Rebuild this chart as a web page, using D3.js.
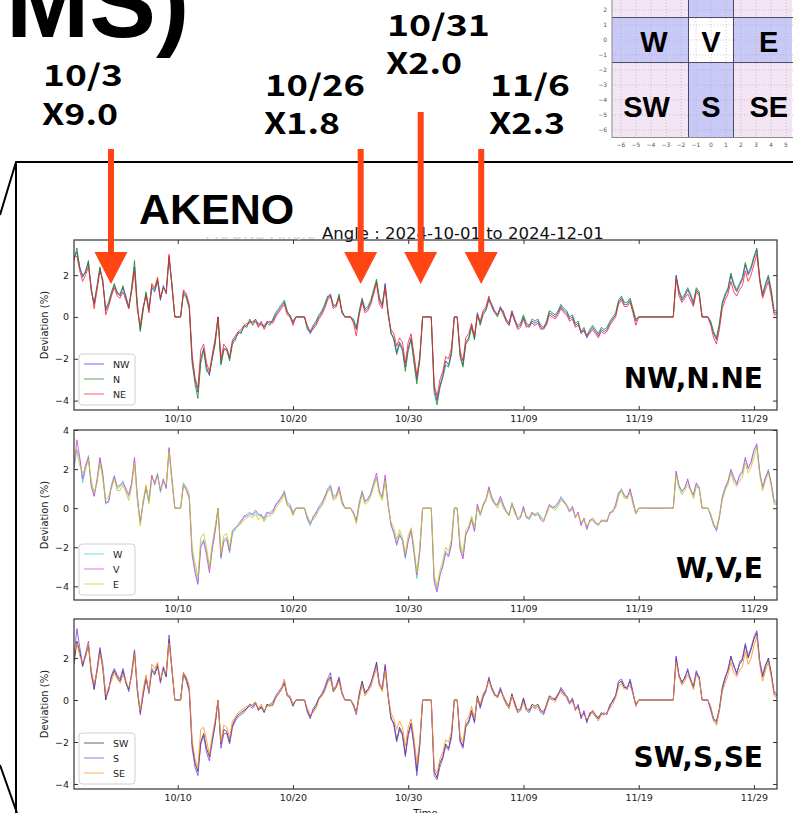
<!DOCTYPE html>
<html>
<head>
<meta charset="utf-8">
<script src="https://cdn.jsdelivr.net/npm/d3@7"></script>
<style>
html, body { margin: 0; padding: 0; background: #fff; overflow: hidden; }
svg text { font-family: "DejaVu Sans", sans-serif; }
</style>
</head>
<body>
<div id="chart"></div>
<script>
// sampling: one value every 6 hours from 2024-10-01 00:00 UTC
var startDate = new Date(Date.UTC(2024, 9, 1));
var endDate = new Date(Date.UTC(2024, 11, 1));
var stepDays = 0.25;
var tickDates = ["2024-10-10", "2024-10-20", "2024-10-30", "2024-11-09", "2024-11-19", "2024-11-29"];

var nw = [
2.8,3.1,2.4,1.9, 2.2,2.6,1.3,0.6, 1.4,2.3,1.7,0.3, 0.6,1.1,1.5,1.2, 1.0,1.4,1.0,0.5,
1.3,2.4,0.5,-0.6, 0.4,1.1,0.3,1.4, 1.2,1.7,0.8,1.5, 1.1,2.9,1.5,0, 0,0,1.2,1.0,
0.5,-2.0,-3.0,-3.6, -2.0,-1.5,-2.4,-2.8, -1.9,-1.2,0,-2.2, -1.5,-1.6,-2.0,-1.2, -1.0,-0.8,-0.7,-0.5,
-0.4,-0.2,-0.3,-0.1, -0.4,-0.3,-0.5,-0.2, -0.3,-0.2,0.1,0.3, 0.5,0.7,0.2,0.1, -0.3,0,0,0,
0,-0.5,-0.8,-0.5, -0.3,0.0,0.2,0.5, 0.9,1.1,0.5,0.6, 1.0,0.3,0,0, 0,-0.2,-0.6,0.2,
0.8,0.3,0.4,0.7, 1.2,1.7,0.8,0.5, 1.6,0.2,-0.8,-1.0, -1.7,-1.2,-1.5,-2.4, -1.5,-1.0,-2.0,-3.0,
-2.0,0,0,0, 0,-3.4,-4.0,-3.3, -2.8,-2.1,-2.3,-1.7, 0,0,-1.8,-2.3, -1.2,-1.0,-0.4,-1.0,
0.2,-0.3,0.2,0.4, 0.9,0.6,0.3,0.1, 0.5,0.2,-0.1,-0.3, 0.3,-0.1,-0.5,-0.4, 0,-0.4,-0.5,-0.2,
-0.3,-0.2,-0.5,-0.6, -0.3,0.2,0.1,0.0, 0.2,0.5,0.3,0.2, -0.1,0.0,-0.4,-0.3, -0.8,-0.6,-1.0,-0.7,
-0.5,-0.7,-0.9,-0.6, -0.7,-0.6,-0.3,-0.1, 0.1,0.7,0.9,0.6, 0.6,0.8,0.3,-0.2, 0,0,0,0,
0,0,0,0, 0,0,0,0, 0,2.0,1.2,0.8, 1.0,1.3,1.0,0.6, 1.3,1.1,0,0,
0,-0.3,-0.8,-1.1, -0.4,0.6,1.0,1.3, 2.0,1.5,1.2,1.5, 1.8,2.5,2.0,2.3, 2.8,3.2,1.8,1.0,
1.5,1.9,1.2,0.2, 0.2];

var n = [
2.7,3.3,2.3,2.0, 2.1,2.7,1.2,0.7, 1.5,2.4,1.6,0.4, 0.7,1.2,1.6,1.1, 1.1,1.5,0.9,0.4,
1.4,2.7,0.6,-0.7, 0.3,1.2,0.4,1.5, 1.3,1.8,0.9,1.4, 1.2,2.8,1.6,0, 0,0,1.1,0.9,
0.4,-2.2,-3.2,-3.9, -2.2,-1.6,-2.6,-2.7, -2.0,-1.3,0,-2.3, -1.6,-1.5,-2.1,-1.3, -1.1,-0.7,-0.8,-0.4,
-0.5,-0.1,-0.4,-0.2, -0.3,-0.4,-0.4,-0.3, -0.4,-0.1,0.2,0.4, 0.6,0.8,0.3,0.0, -0.2,0,0,0,
0,-0.6,-0.7,-0.4, -0.2,0.1,0.3,0.6, 1.0,1.0,0.6,0.5, 1.1,0.2,0,0, 0,-0.1,-0.5,0.3,
0.9,0.4,0.5,0.8, 1.3,1.8,0.9,0.6, 1.5,0.3,-0.7,-1.1, -1.8,-1.3,-1.6,-2.6, -1.6,-1.1,-2.2,-3.2,
-2.1,0,0,0, 0,-3.6,-4.2,-3.4, -2.9,-2.3,-2.4,-1.8, 0,0,-1.9,-2.4, -1.3,-1.1,-0.5,-1.1,
0.1,-0.4,0.1,0.3, 0.8,0.5,0.2,0.0, 0.4,0.1,-0.2,-0.4, 0.2,-0.2,-0.4,-0.3, 0.1,-0.3,-0.4,-0.1,
-0.2,-0.1,-0.4,-0.5, -0.2,0.3,0.2,0.1, 0.3,0.6,0.4,0.3, 0.0,0.1,-0.3,-0.2, -0.7,-0.5,-0.9,-0.6,
-0.4,-0.6,-0.8,-0.5, -0.6,-0.5,-0.2,0.0, 0.2,0.8,1.0,0.7, 0.7,0.9,0.4,-0.1, 0,0,0,0,
0,0,0,0, 0,0,0,0, 0,1.9,1.3,0.9, 1.1,1.4,1.1,0.7, 1.4,1.2,0,0,
0,-0.2,-0.7,-1.0, -0.3,0.7,1.1,1.4, 2.1,1.6,1.3,1.6, 1.9,2.6,2.1,2.4, 2.9,3.3,1.9,1.1,
1.6,2.0,1.3,0.3, 0.3];

var ne = [
2.9,2.9,2.2,1.7, 2.0,2.4,1.4,0.4, 1.3,2.2,1.8,0.1, 0.5,1.0,1.4,1.0, 0.9,1.2,0.8,0.4,
1.2,2.2,0.3,-0.4, 0.5,1.0,0.2,1.6, 1.4,1.9,0.9,1.4, 1.2,3.0,1.4,0, 0,0,1.3,1.1,
0.6,-1.8,-2.9,-3.4, -1.6,-1.3,-2.2,-2.6, -1.8,-1.0,0,-2.0, -1.3,-1.5,-1.9,-1.1, -0.9,-0.7,-0.6,-0.4,
-0.3,-0.3,-0.2,-0.2, -0.5,-0.2,-0.6,-0.3, -0.2,-0.3,0.0,0.2, 0.4,0.6,0.1,0.0, -0.4,0,0,0,
0,-0.4,-0.7,-0.6, -0.4,-0.1,0.1,0.4, 0.8,1.0,0.4,0.5, 0.9,0.2,0,0, 0,-0.3,-0.9,0.1,
0.7,0.2,0.3,0.6, 1.1,1.6,0.6,0.4, 1.4,0.1,-0.6,-0.8, -1.4,-1.0,-1.2,-2.2, -1.2,-0.8,-1.8,-2.8,
-1.9,0,0,0, 0,-3.2,-3.8,-3.0, -2.6,-1.9,-2.0,-1.5, 0,0,-1.6,-2.1, -1.0,-0.8,-0.3,-0.9,
0.1,-0.2,0.3,0.5, 1.0,0.5,0.2,0.1, 0.4,0.3,-0.2,-0.4, 0.2,-0.2,-0.6,-0.5, -0.1,-0.5,-0.4,-0.3,
-0.4,-0.3,-0.6,-0.5, -0.4,0.1,0.0,-0.1, 0.1,0.4,0.2,0.1, -0.2,-0.1,-0.5,-0.4, -0.7,-0.7,-0.9,-0.8,
-0.6,-0.8,-1.0,-0.7, -0.8,-0.7,-0.4,-0.2, 0.0,0.6,0.8,0.5, 0.5,0.7,0.2,-0.4, 0,0,0,0,
0,0,0,0, 0,0,0,0, 0,1.8,1.0,0.7, 0.9,1.1,0.8,0.5, 1.2,1.0,0,0,
0,-0.4,-1.0,-1.3, -0.6,0.4,0.8,1.1, 1.7,1.2,1.0,1.3, 1.5,2.2,1.7,2.0, 2.5,3.0,1.7,0.9,
1.3,1.7,1.0,0.1, 0.1];

var w = [
2.0,3.0,2.5,1.3, 2.0,2.7,1.2,0.7, 1.5,2.5,1.6,0.2, 0.4,1.2,1.7,1.0, 1.1,1.4,0.9,0.6,
1.2,2.4,0.5,-0.8, 0.2,1.0,0.3,1.6, 1.3,1.8,0.8,1.4, 1.1,3.0,1.4,0, 0,0,1.3,1.0,
0.6,-2.2,-3.1,-3.8, -1.9,-1.6,-2.2,-3.1, -2.0,-1.1,0,-2.6, -1.6,-1.5,-2.3,-1.3, -1.1,-0.8,-0.6,-0.5,
-0.3,-0.2,-0.4,-0.2, -0.4,-0.3,-0.6,-0.3, -0.2,-0.1,0.1,0.4, 0.5,0.9,0.3,0.2, -0.2,0,0,0,
0,-0.6,-0.9,-0.4, -0.3,0.1,0.3,0.5, 1.0,1.2,0.6,0.7, 1.0,0.3,0,0, 0,-0.3,-0.6,0.3,
0.9,0.4,0.4,0.8, 1.2,1.6,0.9,0.5, 1.5,0.3,-0.9,-1.2, -1.8,-1.3,-1.7,-2.6, -1.6,-1.2,-2.3,-3.6,
-2.3,0,0,0, 0,-3.6,-4.2,-3.5, -2.9,-2.2,-2.4,-1.8, 0,0,-2.0,-2.5, -1.3,-1.1,-0.5,-1.1,
0.1,-0.4,0.2,0.5, 1.0,0.6,0.3,0.1, 0.5,0.1,-0.1,-0.4, 0.3,-0.2,-0.5,-0.4, 0.0,-0.4,-0.6,-0.3,
-0.3,-0.2,-0.5,-0.6, -0.3,0.1,0.1,0.0, 0.2,0.6,0.3,0.2, -0.1,0.0,-0.4,-0.3, -0.8,-0.6,-1.0,-0.7,
-0.5,-0.7,-0.9,-0.6, -0.7,-0.6,-0.3,-0.1, 0.1,0.7,1.0,0.6, 0.6,0.9,0.3,-0.2, 0,0,0,0,
0,0,0,0, 0,0,0,0, 0,1.8,1.2,0.8, 1.1,1.4,1.0,0.6, 1.2,1.1,0,0,
0,-0.3,-0.8,-1.2, -0.4,0.6,1.1,1.3, 1.9,1.5,1.3,1.6, 1.8,2.5,2.1,2.3, 2.9,3.2,1.9,1.0,
1.5,2.0,1.2,0.3, 0.2];

var v = [
2.1,3.5,2.6,1.5, 2.2,2.6,1.1,0.6, 1.4,2.6,1.8,0.3, 0.3,1.1,1.6,1.1, 1.2,1.3,1.0,0.7,
1.3,2.6,0.6,-0.7, 0.3,1.1,0.4,1.7, 1.2,1.7,0.9,1.5, 1.0,3.1,1.5,0, 0,0,1.2,0.9,
0.5,-2.4,-3.3,-3.9, -2.0,-1.7,-2.4,-3.3, -2.1,-1.2,0,-2.5, -1.7,-1.6,-2.2,-1.2, -1.0,-0.9,-0.7,-0.4,
-0.4,-0.3,-0.3,-0.1, -0.3,-0.4,-0.5,-0.2, -0.3,-0.2,0.2,0.3, 0.6,0.8,0.2,0.1, -0.3,0,0,0,
0,-0.5,-0.8,-0.5, -0.2,0.0,0.2,0.6, 0.9,1.1,0.5,0.6, 1.1,0.4,0,0, 0,-0.2,-0.7,0.2,
0.8,0.3,0.5,0.7, 1.3,1.8,0.8,0.6, 1.7,0.2,-0.8,-1.3, -1.9,-1.4,-1.6,-2.5, -1.7,-1.1,-2.2,-3.4,
-2.2,0,0,0, 0,-3.8,-4.3,-3.4, -3.0,-2.3,-2.5,-1.9, 0,0,-2.1,-2.6, -1.4,-1.0,-0.6,-1.2,
0.2,-0.3,0.1,0.4, 1.1,0.5,0.2,0.2, 0.6,0.2,-0.2,-0.3, 0.2,-0.1,-0.6,-0.5, 0.1,-0.5,-0.5,-0.2,
-0.4,-0.3,-0.6,-0.7, -0.2,0.2,0.0,0.1, 0.3,0.5,0.4,0.1, -0.2,0.1,-0.5,-0.2, -0.9,-0.5,-1.1,-0.6,
-0.6,-0.8,-0.8,-0.7, -0.6,-0.7,-0.2,-0.2, 0.2,0.8,0.9,0.7, 0.5,1.0,0.4,-0.3, 0,0,0,0,
0,0,0,0, 0,0,0,0, 0,1.9,1.1,0.9, 1.0,1.5,0.9,0.7, 1.3,1.0,0,0,
0,-0.4,-0.9,-1.1, -0.5,0.5,1.0,1.4, 2.0,1.6,1.2,1.7, 1.9,2.6,2.0,2.4, 3.0,3.3,1.8,1.1,
1.6,1.9,1.3,0.4, 0.3];

var e = [
2.6,2.9,2.2,1.8, 2.0,2.5,1.4,0.8, 1.3,2.3,1.5,0.4, 0.6,1.0,1.5,0.9, 0.9,1.2,0.8,0.4,
1.1,2.3,0.4,-0.9, 0.4,1.2,0.2,1.5, 1.4,1.6,1.0,1.3, 1.2,2.9,1.3,0, 0,0,1.2,1.1,
0.7,-2.0,-2.8,-3.5, -1.5,-1.3,-2.0,-3.0, -1.8,-0.9,0,-2.3, -1.4,-1.3,-2.0,-1.1, -1.0,-0.9,-0.8,-0.6,
-0.5,-0.4,-0.5,-0.3, -0.6,-0.4,-0.7,-0.4, -0.4,-0.3,0.0,0.2, 0.4,0.7,0.1,0.0, -0.4,0,0,0,
0,-0.4,-0.7,-0.6, -0.4,-0.1,0.1,0.4, 0.8,1.0,0.4,0.5, 0.9,0.2,0,0, 0,-0.3,-0.8,0.1,
0.7,0.2,0.3,0.6, 1.1,1.5,0.7,0.4, 1.4,0.1,-0.7,-1.0, -1.6,-1.1,-1.5,-2.3, -1.4,-1.0,-2.0,-3.3,
-2.0,0,0,0, 0,-3.4,-4.0,-3.2, -2.7,-2.0,-2.2,-1.6, 0,0,-1.8,-2.3, -1.1,-0.9,-0.4,-1.0,
0.0,-0.3,0.2,0.4, 0.9,0.4,0.2,0.0, 0.4,0.0,-0.2,-0.4, 0.2,-0.3,-0.5,-0.4, -0.1,-0.4,-0.5,-0.3,
-0.3,-0.3,-0.4,-0.6, -0.3,0.1,0.0,-0.1, 0.1,0.4,0.3,0.1, -0.1,-0.1,-0.4,-0.3, -0.7,-0.6,-0.9,-0.7,
-0.5,-0.7,-0.9,-0.6, -0.7,-0.6,-0.3,-0.1, 0.0,0.6,0.9,0.5, 0.5,0.8,0.2,-0.3, 0,0,0,0,
0,0,0,0, 0,0,0,0, 0,1.7,1.0,0.7, 0.9,1.2,0.9,0.5, 1.1,1.0,0,0,
0,-0.3,-0.8,-1.0, -0.4,0.4,0.9,1.2, 1.8,1.3,1.1,1.4, 1.6,2.3,1.8,2.1, 2.6,3.1,1.7,0.9,
1.4,1.8,1.1,0.2, 0.2];

var sw = [
1.7,2.8,2.3,1.6, 2.1,2.6,1.3,0.5, 1.4,2.4,1.5,0.0, 0.5,1.1,1.4,1.1, 0.9,1.4,0.8,0.5,
1.2,2.3,0.4,-0.6, 0.3,1.0,0.4,1.4, 1.2,1.6,0.9,1.5, 1.1,2.9,1.4,0, 0,0,1.3,1.0,
0.5,-2.1,-3.0,-3.4, -2.0,-1.6,-2.3,-2.7, -1.9,-1.1,0,-2.1, -1.4,-1.5,-2.0,-1.2, -0.9,-0.7,-0.6,-0.5,
-0.4,-0.2,-0.3,-0.1, -0.5,-0.3,-0.6,-0.2, -0.3,-0.2,0.1,0.3, 0.5,0.8,0.2,0.1, -0.3,0,0,0,
0,-0.5,-0.8,-0.5, -0.3,0.1,0.2,0.5, 0.9,1.1,0.4,0.6, 1.0,0.3,0,0, 0,-0.2,-0.6,0.3,
0.9,0.3,0.5,0.8, 1.2,1.8,0.7,0.5, 1.6,0.2,-0.9,-1.1, -1.9,-1.3,-1.6,-2.6, -1.6,-1.1,-2.1,-3.4,
-2.1,0,0,0, 0,-3.4,-3.7,-3.0, -2.7,-2.1,-2.3,-1.7, 0,0,-1.9,-2.2, -1.2,-1.0,-0.5,-1.0,
0.2,-0.3,0.2,0.5, 1.0,0.6,0.3,0.1, 0.5,0.2,-0.1,-0.3, 0.3,-0.2,-0.5,-0.4, 0.1,-0.4,-0.5,-0.2,
-0.3,-0.2,-0.5,-0.6, -0.2,0.2,0.1,0.0, 0.3,0.5,0.3,0.2, -0.1,0.0,-0.4,-0.3, -0.8,-0.6,-1.0,-0.7,
-0.5,-0.7,-0.9,-0.6, -0.7,-0.6,-0.3,0.0, 0.2,0.8,0.9,0.6, 0.6,0.9,0.3,-0.2, 0,0,0,0,
0,0,0,0, 0,0,0,0, 0,2.0,1.2,0.8, 1.1,1.4,1.0,0.6, 1.3,1.1,0,0,
0,-0.4,-0.9,-1.0, -0.4,0.6,1.1,1.4, 2.1,1.6,1.3,1.7, 1.9,2.6,2.0,2.4, 2.9,3.2,1.8,1.1,
1.6,2.0,1.3,0.3, 0.2];

var s = [
2.0,3.4,2.5,1.7, 2.2,2.8,1.2,0.6, 1.5,2.5,1.7,0.2, 0.4,1.2,1.5,1.2, 1.0,1.5,0.9,0.4,
1.3,2.4,0.5,-0.7, 0.2,1.1,0.3,1.5, 1.3,1.7,0.8,1.6, 1.2,3.1,1.5,0, 0,0,1.2,0.9,
0.4,-2.3,-3.2,-3.6, -2.1,-1.7,-2.5,-2.9, -2.0,-1.2,0,-2.3, -1.6,-1.6,-2.1,-1.3, -1.0,-0.8,-0.7,-0.6,
-0.4,-0.3,-0.4,-0.2, -0.4,-0.4,-0.5,-0.3, -0.2,-0.1,0.2,0.4, 0.6,0.9,0.3,0.1, -0.2,0,0,0,
0,-0.6,-0.9,-0.4, -0.2,0.1,0.3,0.6, 1.0,1.3,0.5,0.7, 1.1,0.4,0,0, 0,-0.3,-0.7,0.2,
0.8,0.4,0.5,0.7, 1.3,1.7,0.8,0.6, 1.7,0.3,-0.8,-1.2, -2.0,-1.4,-1.7,-2.7, -1.7,-1.2,-2.2,-3.6,
-2.2,0,0,0, 0,-3.6,-3.8,-3.2, -2.8,-2.2,-2.4,-1.8, 0,0,-2.0,-2.3, -1.3,-1.1,-0.6,-1.1,
0.1,-0.4,0.1,0.4, 1.1,0.5,0.2,0.2, 0.6,0.1,-0.2,-0.4, 0.2,-0.1,-0.6,-0.5, 0.0,-0.5,-0.6,-0.3,
-0.4,-0.3,-0.6,-0.7, -0.3,0.1,0.0,0.1, 0.2,0.6,0.4,0.1, -0.2,0.1,-0.5,-0.2, -0.9,-0.5,-1.1,-0.6,
-0.6,-0.8,-0.8,-0.7, -0.6,-0.7,-0.2,-0.1, 0.2,0.9,1.0,0.7, 0.5,1.0,0.4,-0.3, 0,0,0,0,
0,0,0,0, 0,0,0,0, 0,2.1,1.1,0.9, 1.0,1.5,0.9,0.7, 1.4,1.0,0,0,
0,-0.5,-1.0,-1.1, -0.5,0.5,1.0,1.5, 2.0,1.7,1.2,1.8, 2.0,2.7,2.1,2.5, 3.0,3.3,1.9,1.2,
1.7,1.9,1.2,0.4, 0.3];

var se = [
2.3,2.7,2.1,1.8, 2.0,2.7,1.4,0.8, 1.3,2.2,1.6,0.3, 0.6,0.9,1.3,1.0, 0.8,1.2,0.9,0.6,
1.1,2.2,0.6,-0.5, 0.5,1.2,0.4,1.7, 1.5,1.8,1.0,1.4, 1.3,2.7,1.5,0, 0,0,1.3,1.1,
0.7,-1.9,-2.8,-3.2, -1.4,-1.3,-1.9,-2.6, -1.7,-0.9,0,-2.0, -1.2,-1.3,-1.8,-1.0, -0.8,-0.6,-0.5,-0.4,
-0.3,-0.3,-0.2,-0.1, -0.4,-0.2,-0.5,-0.3, -0.2,-0.3,0.1,0.3, 0.5,1.0,0.2,0.2, -0.2,0,0,0,
0,-0.4,-0.7,-0.6, -0.4,0.0,0.2,0.4, 0.8,1.0,0.5,0.6, 0.9,0.3,0,0, 0,-0.2,-0.6,0.1,
0.7,0.2,0.4,0.6, 1.1,1.5,0.7,0.4, 1.4,0.2,-0.6,-0.9, -1.4,-1.0,-1.3,-2.2, -1.3,-0.9,-1.8,-3.0,
-1.9,0,0,0, 0,-3.2,-3.5,-2.8, -2.5,-1.9,-2.0,-1.5, 0,0,-1.7,-2.0, -1.0,-0.8,-0.3,-0.9,
0.1,-0.2,0.3,0.5, 0.9,0.5,0.3,0.1, 0.4,0.2,-0.2,-0.4, 0.2,-0.3,-0.6,-0.5, -0.1,-0.5,-0.4,-0.3,
-0.4,-0.3,-0.5,-0.5, -0.3,0.1,0.1,-0.1, 0.2,0.4,0.2,0.2, -0.1,-0.1,-0.4,-0.4, -0.7,-0.7,-0.9,-0.8,
-0.5,-0.8,-1.0,-0.7, -0.7,-0.6,-0.4,-0.2, 0.1,0.6,0.8,0.5, 0.6,0.7,0.3,-0.3, 0,0,0,0,
0,0,0,0, 0,0,0,0, 0,1.8,1.1,0.7, 0.9,1.2,0.9,0.5, 1.2,1.0,0,0,
0,-0.3,-0.9,-1.2, -0.5,0.4,0.8,1.2, 1.8,1.3,1.1,1.4, 1.6,2.3,1.7,2.0, 2.6,3.0,1.7,0.9,
1.4,1.8,1.1,0.2, 0.1];

var groups = [
  { names: ["NW", "N", "NE"], values: [nw, n, ne], colors: ["#2f2fff", "#178a17", "#ff1e1e"], label: "NW,N.NE", yTicks: [-4, -2, 0, 2] },
  { names: ["W", "V", "E"], values: [w, v, e], colors: ["#3fd0dc", "#d040d8", "#c8c81e"], label: "W,V,E", yTicks: [-4, -2, 0, 2, 4] },
  { names: ["SW", "S", "SE"], values: [sw, s, se], colors: ["#2a2a2a", "#7b3ee0", "#ff8c1a"], label: "SW,S,SE", yTicks: [-4, -2, 0, 2] }
];

// event annotations (date, rate multiplier) and the instant each arrow points at
var eventDates = ["10/3", "10/26", "10/31", "11/6"];
var eventRates = ["X9.0", "X1.8", "X2.0", "X2.3"];
var arrowTimes = ["2024-10-04T05:00Z", "2024-10-25T21:00Z", "2024-10-31T02:00Z", "2024-11-05T08:00Z"];

// inset detector map
var cellNames = ["W", "V", "E", "SW", "S", "SE"];

var W = 793, H = 813;
var svg = d3.select("#chart").append("svg").attr("width", W).attr("height", H);

// layout of the three panels (pixels) and their y ranges
var panelBox = [
  { top: 240, bottom: 410, ymin: -4.45, ymax: 3.68 },
  { top: 430, bottom: 600, ymin: -4.7, ymax: 4.0 },
  { top: 619, bottom: 789, ymin: -4.24, ymax: 3.86 }
];
var left = 74, right = 777;

var x = d3.scaleUtc().domain([startDate, endDate]).range([left, right]);
var fmt = d3.utcFormat("%m/%d");
var tickVals = tickDates.map(function(d) { return new Date(d + "T00:00:00Z"); });
function timeAt(i) { return new Date(startDate.getTime() + i * stepDays * 864e5); }

// callout frame
svg.append("path")
  .attr("d", "M0,215 L16,162 L793,162 M16,162 L16,813 M0,765 L17,813")
  .attr("fill", "none").attr("stroke", "#000").attr("stroke-width", 2);

// big cut-off title at top left
svg.append("text").attr("x", 6).attr("y", 37)
  .style("font-family", "'Liberation Sans', sans-serif").style("font-weight", "bold")
  .style("font-size", "100px").attr("fill", "#000").text("MS)");

groups.forEach(function(g, k) {
  var box = panelBox[k];
  var y = d3.scaleLinear().domain([box.ymin, box.ymax]).range([box.bottom, box.top]);
  var pg = svg.append("g");

  pg.append("clipPath").attr("id", "clip" + k).append("rect")
    .attr("x", left).attr("y", box.top).attr("width", right - left).attr("height", box.bottom - box.top);

  var line = d3.line()
    .x(function(d, i) { return x(timeAt(i)); })
    .y(function(d) { return y(d); });

  var lg = pg.append("g").attr("clip-path", "url(#clip" + k + ")");
  g.values.forEach(function(vals, j) {
    lg.append("path").datum(vals)
      .attr("fill", "none")
      .attr("stroke", g.colors[j])
      .attr("stroke-opacity", 0.8)
      .attr("stroke-width", 1)
      .attr("d", line);
  });

  // axes, ticks pointing inwards on all sides
  var ax = pg.append("g").attr("transform", "translate(0," + box.bottom + ")")
    .call(d3.axisBottom(x).tickValues(tickVals).tickFormat(fmt).tickSize(-4).tickPadding(5));
  var axt = pg.append("g").attr("transform", "translate(0," + box.top + ")")
    .call(d3.axisTop(x).tickValues(tickVals).tickFormat("").tickSize(-4));
  var ay = pg.append("g").attr("transform", "translate(" + left + ",0)")
    .call(d3.axisLeft(y).tickValues(g.yTicks).tickFormat(d3.format("d")).tickSize(-4).tickPadding(5));
  var ayr = pg.append("g").attr("transform", "translate(" + right + ",0)")
    .call(d3.axisRight(y).tickValues(g.yTicks).tickFormat("").tickSize(-4));
  [ax, axt, ay, ayr].forEach(function(a) {
    a.select(".domain").remove();
    a.selectAll(".tick line").attr("stroke", "#333");
    a.selectAll("text").attr("fill", "#222").style("font-size", "9.5px");
  });

  pg.append("rect")
    .attr("x", left).attr("y", box.top).attr("width", right - left).attr("height", box.bottom - box.top)
    .attr("fill", "none").attr("stroke", "#333").attr("stroke-width", 1.2);

  pg.append("text")
    .attr("transform", "translate(48," + (box.top + box.bottom) / 2 + ") rotate(-90)")
    .attr("text-anchor", "middle").style("font-size", "10px").attr("fill", "#222")
    .text("Deviation (%)");

  // legend
  var legTop = box.bottom - 56;
  var leg = pg.append("g");
  leg.append("rect").attr("x", 79).attr("y", legTop).attr("width", 56).attr("height", 51)
    .attr("rx", 3).attr("fill", "#fff").attr("fill-opacity", 0.85)
    .attr("stroke", "#d0d0d0");
  g.names.forEach(function(nm, j) {
    var ly = legTop + 10 + j * 15;
    leg.append("line").attr("x1", 84).attr("x2", 104).attr("y1", ly).attr("y2", ly)
      .attr("stroke", g.colors[j]).attr("stroke-opacity", 0.6).attr("stroke-width", 1.2);
    leg.append("text").attr("x", 113).attr("y", ly + 3.5)
      .style("font-size", "9.5px").attr("fill", "#222").text(nm);
  });

  pg.append("text").attr("x", 763).attr("y", box.bottom - 22)
    .attr("text-anchor", "end")
    .style("font-weight", "bold").style("font-size", "28px").attr("fill", "#000")
    .text(g.label);
});

svg.append("text").attr("x", (left + right) / 2).attr("y", 817)
  .attr("text-anchor", "middle").style("font-size", "10px").attr("fill", "#222").text("Time");

// only the bottom edge of an older title shows under the new one
svg.append("clipPath").attr("id", "oldTitle").append("rect")
  .attr("x", 200).attr("y", 237).attr("width", 118).attr("height", 3);
svg.append("text").attr("x", 205).attr("y", 239).attr("clip-path", "url(#oldTitle)")
  .style("font-size", "16px").attr("fill", "#d8d8d8").text("MUONS Angle");

svg.append("text").attr("x", 322).attr("y", 239)
  .style("font-size", "16.5px").attr("fill", "#111")
  .text("Angle : 2024-10-01 to 2024-12-01");

svg.append("text").attr("x", 139).attr("y", 224)
  .style("font-family", "'Liberation Sans', sans-serif").style("font-weight", "bold")
  .style("font-size", "43px").attr("fill", "#000").text("AKENO");

// inset map of detector directions
var ix = d3.scaleLinear().domain([-6.6, 5.4]).range([612, 792]);
var iy = d3.scaleLinear().domain([-6.5, 2.67]).range([137.5, 0]);
var inset = svg.append("g");
var xBands = [[-6.6, -1.5], [-1.5, 1.5], [1.5, 5.4]];
var yBands = [[1.5, 2.67], [-1.5, 1.5], [-6.5, -1.5]];
yBands.forEach(function(yb, r) {
  xBands.forEach(function(xb, c) {
    var fill = (r === 1 && c === 1) ? "#ffffff" : (r === 1 || c === 1) ? "#c9c9f7" : "#f3e5f3";
    inset.append("rect")
      .attr("x", ix(xb[0])).attr("y", iy(yb[1]))
      .attr("width", ix(xb[1]) - ix(xb[0])).attr("height", iy(yb[0]) - iy(yb[1]))
      .attr("fill", fill);
  });
});
d3.range(-6, 6).forEach(function(t) {
  inset.append("line").attr("x1", ix(t)).attr("x2", ix(t)).attr("y1", 0).attr("y2", iy(-6.5))
    .attr("stroke", "#aaa").attr("stroke-width", 0.6).attr("stroke-dasharray", "1,2");
});
d3.range(-6, 3).forEach(function(t) {
  inset.append("line").attr("x1", ix(-6.6)).attr("x2", 793).attr("y1", iy(t)).attr("y2", iy(t))
    .attr("stroke", "#aaa").attr("stroke-width", 0.6).attr("stroke-dasharray", "1,2");
});
[-1.5, 1.5].forEach(function(b) {
  inset.append("line").attr("x1", ix(b)).attr("x2", ix(b)).attr("y1", 0).attr("y2", iy(-6.5))
    .attr("stroke", "#4a4a66").attr("stroke-width", 1);
  inset.append("line").attr("x1", ix(-6.6)).attr("x2", 793).attr("y1", iy(b)).attr("y2", iy(b))
    .attr("stroke", "#4a4a66").attr("stroke-width", 1);
});
inset.append("path")
  .attr("d", "M" + ix(-6.6) + ",0 L" + ix(-6.6) + "," + iy(-6.5) + " L793," + iy(-6.5))
  .attr("fill", "none").attr("stroke", "#888").attr("stroke-width", 1);
d3.range(-6, 6).forEach(function(t) {
  inset.append("text").attr("x", ix(t)).attr("y", 147).attr("text-anchor", "middle")
    .style("font-size", "6px").attr("fill", "#555").text(d3.format("d")(t));
});
d3.range(-6, 3).forEach(function(t) {
  inset.append("text").attr("x", 607).attr("y", iy(t) + 2).attr("text-anchor", "end")
    .style("font-size", "6px").attr("fill", "#555").text(d3.format("d")(t));
});
var cellX = [-3.8, 0, 3.85, -4.3, 0, 3.85];
var cellY = [-0.8, -0.8, -0.8, -5.15, -5.15, -5.15];
cellNames.forEach(function(nm, i) {
  inset.append("text").attr("x", ix(cellX[i])).attr("y", iy(cellY[i]))
    .attr("text-anchor", "middle")
    .style("font-family", "'Liberation Sans', sans-serif").style("font-weight", "bold")
    .style("font-size", "29px").attr("fill", "#000").text(nm);
});

// event labels and arrows
var labelPos = [
  { x: 43, y1: 86, y2: 125, w1: 80, w2: 76 },
  { x: 265, y1: 96, y2: 134, w1: 100, w2: 76 },
  { x: 387, y1: 36, y2: 74, w1: 103, w2: 76 },
  { x: 490, y1: 96, y2: 134, w1: 80, w2: 76 }
];
var shaftTop = [149, 149, 112, 149];
var arrowColor = "#ff4514";
eventDates.forEach(function(d, i) {
  var p = labelPos[i];
  svg.append("text").attr("x", p.x).attr("y", p.y1)
    .attr("textLength", p.w1).attr("lengthAdjust", "spacingAndGlyphs")
    .style("font-family", "'Noto Sans CJK JP', sans-serif").style("font-weight", "bold")
    .style("font-size", "29px").attr("fill", "#000").text(d);
  svg.append("text").attr("x", p.x - 1).attr("y", p.y2)
    .attr("textLength", p.w2).attr("lengthAdjust", "spacingAndGlyphs")
    .style("font-family", "'Noto Sans CJK JP', sans-serif").style("font-weight", "bold")
    .style("font-size", "29px").attr("fill", "#000").text(eventRates[i]);

  var ax0 = x(new Date(arrowTimes[i]));
  svg.append("rect").attr("x", ax0 - 3).attr("y", shaftTop[i]).attr("width", 6).attr("height", 254 - shaftTop[i])
    .attr("fill", arrowColor);
  svg.append("path")
    .attr("d", "M" + (ax0 - 16.5) + ",252 L" + (ax0 + 16.5) + ",252 L" + ax0 + ",284 Z")
    .attr("fill", arrowColor);
});
</script>
</body>
</html>
